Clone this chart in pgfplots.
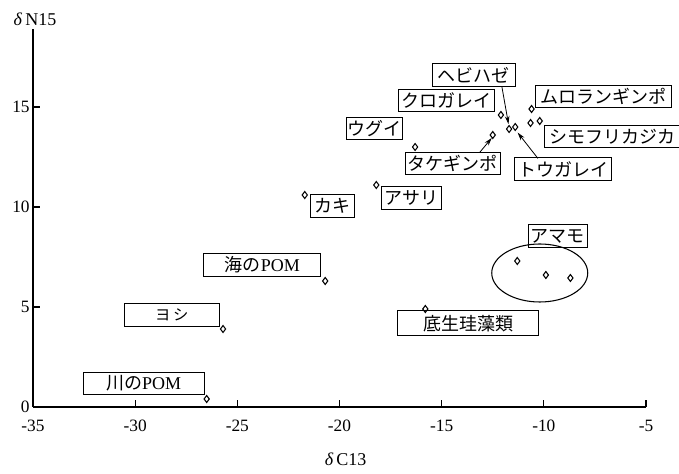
\documentclass[border=0pt]{standalone}
\usepackage{fontspec}
\setmainfont{Liberation Serif}
\newfontfamily\jp{Noto Sans CJK JP}
\usepackage{pgfplots}
\pgfplotsset{compat=1.18}
\usetikzlibrary{arrows.meta}
\tikzset{lbl/.style={draw, line width=0.75pt, inner sep=1pt, font=\fontsize{13.5}{15}\selectfont\jp, minimum height=17pt}}
\begin{document}
\begin{tikzpicture}
\path[use as bounding box] (-24.75pt,-50.25pt) rectangle (484.5pt,305.25pt);
\begin{axis}[
  at={(0,0)}, anchor=south west,
  scale only axis, width=459.75pt, height=283.5pt,
  xmin=-35, xmax=-5, ymin=0, ymax=18.9,
  axis lines=left, axis line style={-, line width=0.9pt},
  xtick={-35,-30,-25,-20,-15,-10,-5}, ytick={0,5,10,15},
  tick align=inside, major tick length=5pt,
  tick style={line width=0.8pt, black},
  /pgf/number format/assume math mode=true,
  ticklabel style={font=\fontsize{13}{15}\selectfont},
  xticklabel style={yshift=-6pt},
  yticklabel style={xshift=1pt},
  clip=false,
]
\addplot[only marks, mark=diamond, mark size=2.6pt, mark options={fill=white, line width=0.8pt}] coordinates {
(-26.5,0.4) (-25.7,3.9) (-20.7,6.3) (-15.8,4.9) (-21.7,10.6) (-18.2,11.1)
(-16.3,13.0) (-12.5,13.6) (-12.1,14.6) (-11.7,13.9) (-11.4,14.0)
(-10.6,14.9) (-10.65,14.2) (-10.2,14.3)
(-11.3,7.3) (-9.9,6.6) (-8.7,6.45)
};
\draw[line width=0.8pt] (axis cs:-10.2,6.7) ellipse [x radius=36pt, y radius=21.75pt];
\node[lbl, minimum width=62pt] at (axis cs:-13.42,16.59) {ヘビハゼ};
\node[lbl, minimum width=72pt] at (axis cs:-14.78,15.32) {クロガレイ};
\node[lbl, minimum width=102pt] at (axis cs:-7.10,15.52) {ムロランギンポ};
\node[lbl, minimum width=40pt] at (axis cs:-18.29,13.92) {ウグイ};
\node[lbl, minimum width=71pt] at (axis cs:-14.45,12.18) {タケギンポ};
\node[lbl, minimum width=73pt] at (axis cs:-9.06,11.90) {トウガレイ};
\node[lbl, anchor=west, inner xsep=4pt] at (axis cs:-10.01,13.53) {シモフリカジカ};
\node[lbl, minimum width=33pt] at (axis cs:-20.35,10.04) {カキ};
\node[lbl, minimum width=45pt] at (axis cs:-16.48,10.45) {アサリ};
\node[lbl, minimum width=88pt] at (axis cs:-23.78,7.10) {海の\rmfamily POM};
\node[lbl, minimum width=71pt, font=\fontsize{11.5}{14}\selectfont\jp] at (axis cs:-28.21,4.59) {ヨ\,シ};
\node[lbl, minimum width=106pt, minimum height=19pt] at (axis cs:-13.71,4.19) {底生珪藻類};
\node[lbl, minimum width=44pt] at (axis cs:-9.31,8.55) {アマモ};
\node[lbl, minimum width=91pt] at (axis cs:-29.58,1.17) {川の\rmfamily POM};
\draw[line width=0.6pt, -{Stealth[length=6pt,width=3.5pt]}] (axis cs:-12.05,16.0) -- (axis cs:-11.73,14.15);
\draw[line width=0.6pt, -{Stealth[length=6pt,width=3.5pt]}] (axis cs:-10.29,12.43) -- (axis cs:-11.28,13.72);
\draw[line width=0.6pt, -{Stealth[length=6pt,width=3.5pt]}] (axis cs:-13.13,12.74) -- (axis cs:-12.55,13.45);
\node[font=\fontsize{13.5}{15}\selectfont] at (axis cs:-34.9,19.4) {\textit{δ}\,N15};
\node[font=\fontsize{13.5}{15}\selectfont] at (axis cs:-19.7,-2.6) {\textit{δ}\,C13};
\end{axis}
\end{tikzpicture}
\end{document}
